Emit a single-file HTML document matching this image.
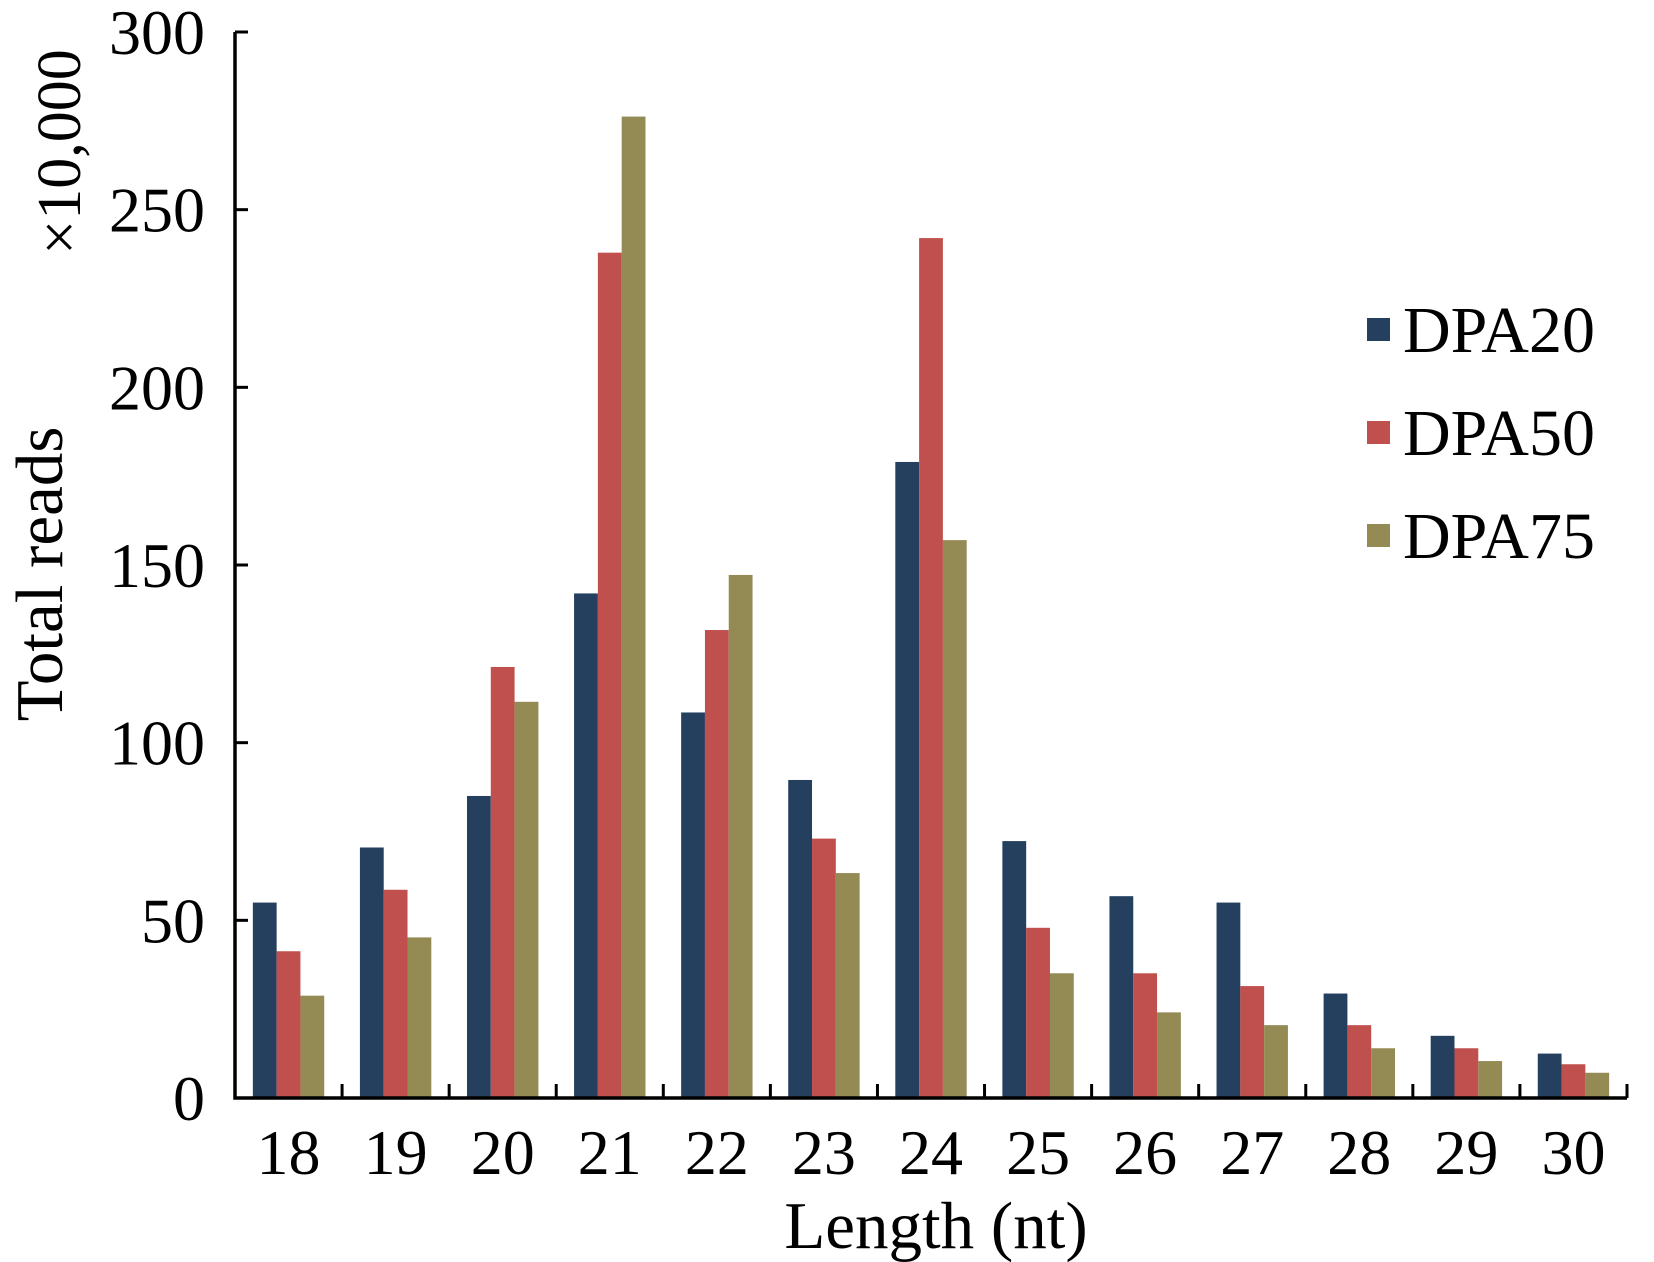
<!DOCTYPE html>
<html><head><meta charset="utf-8"><style>body{margin:0;background:#fff}svg{display:block}text{font-family:"Liberation Serif",serif;fill:#000}</style></head>
<body>
<svg id="chart" width="1654" height="1262" viewBox="0 0 1654 1262" xmlns="http://www.w3.org/2000/svg">
<g id="bars"></g>
<g id="axes"></g>
<text x="0" y="0" font-size="67" text-anchor="middle" transform="translate(62,574) rotate(-90)">Total reads</text>
<text x="0" y="0" font-size="62" text-anchor="middle" transform="translate(80,152) rotate(-90)">×10,000</text>
<text x="936" y="1248" font-size="67" text-anchor="middle">Length (nt)</text>
<g id="legend"></g>
</svg>
<script>
const categories = ["18","19","20","21","22","23","24","25","26","27","28","29","30"];
const dpa20 = [55,70.5,85,142,108.5,89.5,179,72.3,56.8,55,29.4,17.5,12.5];
const dpa50 = [41.3,58.6,121.3,237.9,131.7,73,242,47.9,35.1,31.5,20.5,14,9.5];
const dpa75 = [28.8,45.2,111.5,276.2,147.2,63.3,157,35.1,24.1,20.5,14,10.4,7.1];
const seriesNames = ["DPA20","DPA50","DPA75"];
const yTicks = [0,50,100,150,200,250,300];

const NS="http://www.w3.org/2000/svg";
const colors=["#253f5f","#c0504d","#948a54"];
const x0=235,x1=1627,yBase=1098,yTop=32,yMax=300;
const gw=(x1-x0)/categories.length, bw=23.8;
const yS=v=>yBase-(v/yMax)*(yBase-yTop);
const xG=i=>x0+gw*i+gw/2;
function mk(tag,attrs,parent){const e=document.createElementNS(NS,tag);for(const k in attrs)e.setAttribute(k,attrs[k]);parent.appendChild(e);return e;}
const bars=document.getElementById('bars');
const series=[dpa20,dpa50,dpa75];
series.forEach((s,si)=>{s.forEach((v,i)=>{
  const r=mk('rect',{x:xG(i)-1.5*bw+si*bw,y:yS(v),width:bw,height:yBase-yS(v),fill:colors[si]},bars);
  
  
});});
const ax=document.getElementById('axes');
mk('path',{d:`M${x0},${yTop} V${yBase} H${x1}`,stroke:'#000','stroke-width':3.5,fill:'none'},ax);
yTicks.forEach(t=>{
  mk('line',{x1:x0,x2:x0+13,y1:yS(t),y2:yS(t),stroke:'#000','stroke-width':3},ax);
  const tx=mk('text',{x:205,y:yS(t)+22,'font-size':64,'text-anchor':'end'},ax);
  tx.textContent=t;
  
  
});
for(let i=1;i<=categories.length;i++){
  const xx=x0+gw*i;
  mk('line',{x1:xx,x2:xx,y1:yBase,y2:yBase-14,stroke:'#000','stroke-width':3},ax);
}
categories.forEach((c,i)=>{
  const tx=mk('text',{x:xG(i),y:1174,'font-size':64,'text-anchor':'middle'},ax);
  tx.textContent=c;
  
  
});
const lg=document.getElementById('legend');
const ly=[352,455,558];
seriesNames.forEach((n,i)=>{
  const g=mk('g',{},lg);
  
  
  mk('rect',{x:1367,y:ly[i]-34,width:23,height:23,fill:colors[i]},g);
  const t=mk('text',{x:1403,y:ly[i],'font-size':66},g);
  t.textContent=n;
});
</script>
</body></html>
